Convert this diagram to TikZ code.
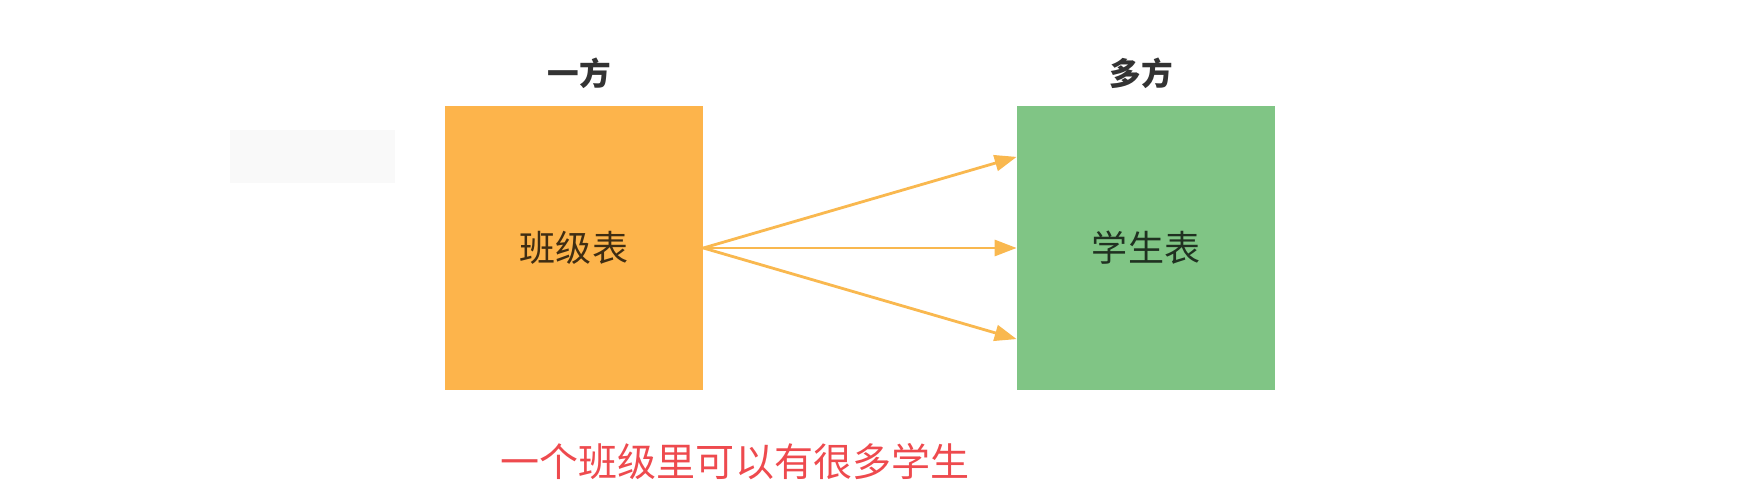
\documentclass[tikz,border=0pt]{standalone}
\usepackage{fontspec}
\usepackage{xcolor}
\usepackage{tikz}
\usetikzlibrary{
    arrows.meta,
    calc,
    positioning
}
\newfontfamily\cjk{Noto Sans CJK SC}
\definecolor{clsorange}{HTML}{FDB44B}
\definecolor{stugreen}{HTML}{80C585}
\definecolor{arroworange}{HTML}{F9B84F}
\definecolor{notered}{HTML}{EE4A4E}
\tikzset{
    tablebox/.style={minimum width=5.16cm, minimum height=5.68cm, inner sep=0pt,
        font=\cjk\fontsize{20.5pt}{24pt}\selectfont, text=black, text opacity=0.75},
    sidelabel/.style={font=\cjk\bfseries\fontsize{18pt}{22pt}\selectfont, text=black!80, inner sep=0pt},
    manyarrow/.style={-{Triangle[length=4.4mm,width=3.2mm]}, color=arroworange, line width=1.6pt}
}

\begin{document}
\begin{tikzpicture}
                    \useasboundingbox (0, 0) rectangle (35.2, 10.04);
                    \fill[gray!5] (4.6, 6.38) rectangle (7.9, 7.44);

                    \node[tablebox, fill=clsorange] (cls) at (11.48, 5.08) {班级表};
                    \node[tablebox, fill=stugreen] (stu) at (22.92, 5.08) {学生表};
                    \node[sidelabel, above=3.4mm of cls, xshift=1mm] (one) {一方};
                    \node[sidelabel, above=3.4mm of stu, xshift=-1mm] (many) {多方};
                    \node[font=\cjk\fontsize{22.2pt}{26pt}\selectfont, text=notered] (note) at (14.7, 0.8) {一个班级里可以有很多学生};

                    \coordinate (s1) at ($(stu.north west)!0.18!(stu.south west)$);
                    \coordinate (s2) at (stu.west);
                    \coordinate (s3) at ($(stu.north west)!0.82!(stu.south west)$);

                    \draw
                    (cls.east) edge[manyarrow] (s1)
                    (cls.east) edge[manyarrow] (s2)
                    (cls.east) edge[manyarrow] (s3);
                \end{tikzpicture}
\end{document}
